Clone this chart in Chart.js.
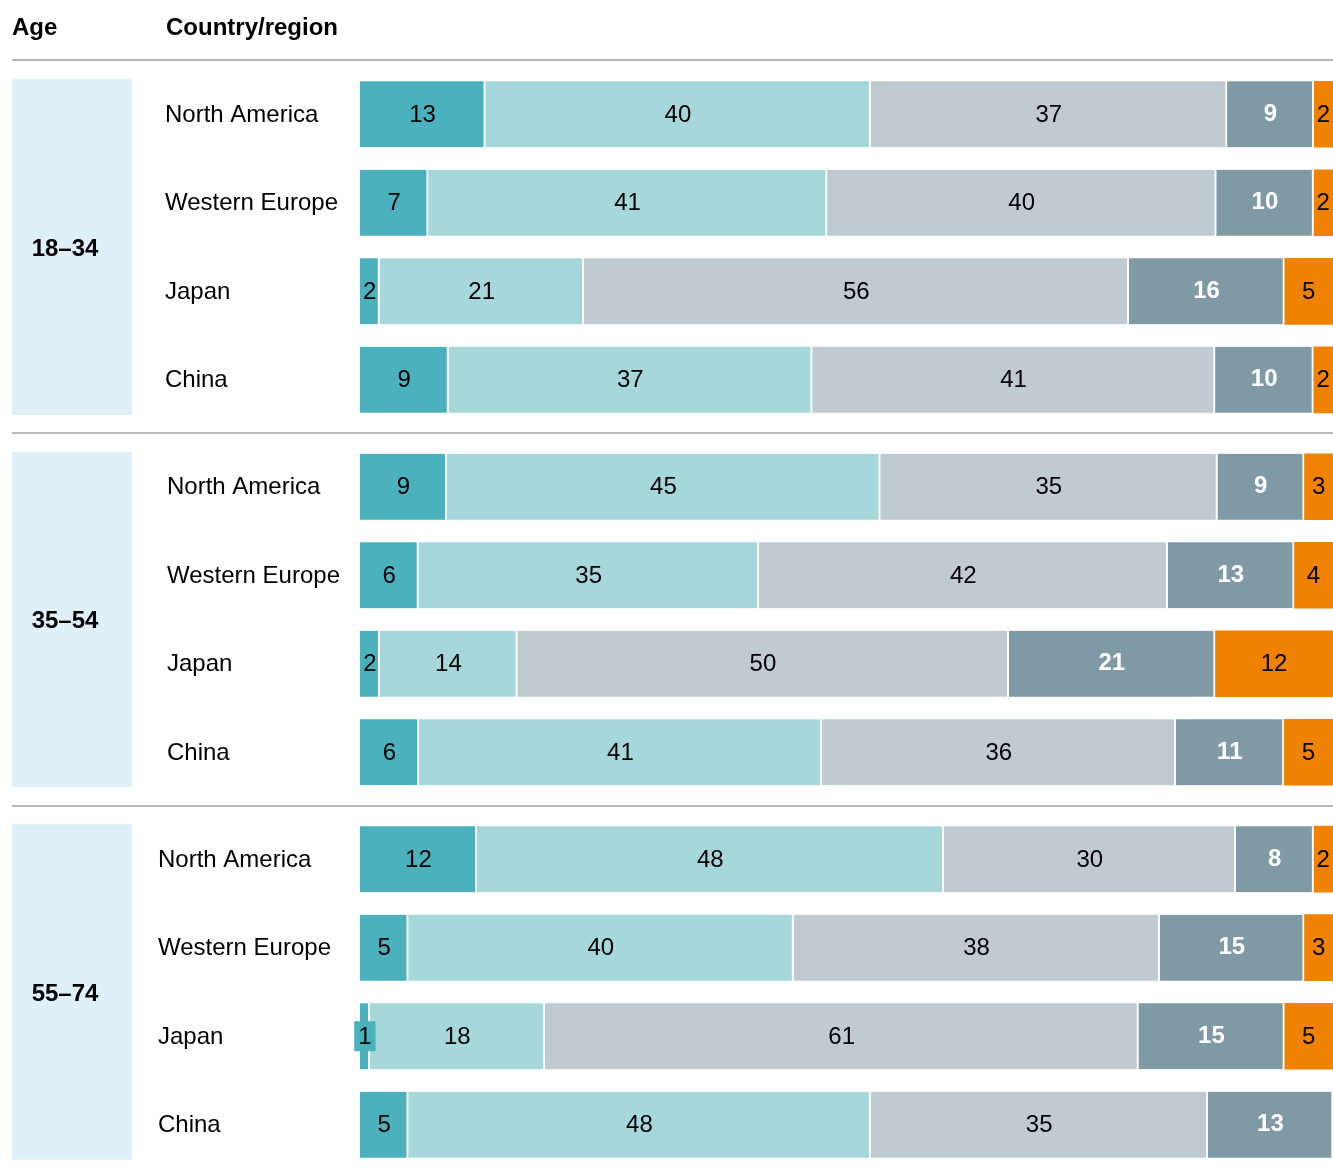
<!DOCTYPE html>
<html lang="en">
	<head>
		<meta charset="UTF-8" />
		<title>Age by country/region</title>
		<style>
			body { margin: 0; background: #fff; }
			#wrap { position: absolute; left: 0; top: 0; width: 1333px; height: 1169px; }
		</style>
	</head>
	<body>
		<div id="wrap"><canvas id="bars" width="1333" height="1169"></canvas></div>
		<script src="https://cdn.jsdelivr.net/npm/chart.js"></script>
		<script>
			const ageGroups = ["18–34", "35–54", "55–74"];
			const regions = ["North America", "Western Europe", "Japan", "China"];

			// one value per row: 3 age groups x 4 regions
			const series1 = [13, 7, 2, 9, 9, 6, 2, 6, 12, 5, 1, 5];
			const series2 = [40, 41, 21, 37, 45, 35, 14, 41, 48, 40, 18, 48];
			const series3 = [37, 40, 56, 41, 35, 42, 50, 36, 30, 38, 61, 35];
			const series4 = [9, 10, 16, 10, 9, 13, 21, 11, 8, 15, 15, 13];
			const series5 = [2, 2, 5, 2, 3, 4, 12, 5, 2, 3, 5, 0];

			const allSeries = [series1, series2, series3, series4, series5];
			const colors = ["#4bb2bd", "#a6d8db", "#bfcbd1", "#7f9aa5", "#ef8200"];

			const FONT = "'Liberation Sans', Arial, sans-serif";
			const GROUP_STEP = 4.207; // rows + small gap between age groups
			const regionX = [165, 167, 158];

			const rowPos = [];
			ageGroups.forEach((g, gi) => regions.forEach((r, ri) => rowPos.push(gi * GROUP_STEP + ri)));
			const totals = rowPos.map((p, j) => allSeries.reduce((s, arr) => s + arr[j], 0));

			const datasets = allSeries.map((arr, k) => ({
				label: "s" + (k + 1),
				data: arr.map((v, j) => ({ y: rowPos[j], x: (v / totals[j]) * 100 })),
				backgroundColor: colors[k],
				borderColor: "#ffffff",
				borderWidth: { left: 0, right: k === 4 ? 0 : 2, top: 0, bottom: 0 },
				borderSkipped: false,
				barThickness: 66
			}));

			const decor = {
				id: "decor",
				beforeDraw(chart) {
					const c = chart.ctx;
					const y = chart.scales.y;
					c.save();
					c.fillStyle = "#000";
					c.font = "bold 24px " + FONT;
					c.textBaseline = "middle";
					c.textAlign = "left";
					c.fillText("Age", 12, 28);
					c.fillText("Country/region", 166, 28);

					ageGroups.forEach((g, gi) => {
						const top = y.getPixelForValue(gi * GROUP_STEP) - 35;
						const bot = y.getPixelForValue(gi * GROUP_STEP + 3) + 35;
						c.fillStyle = "#dff0f8";
						c.fillRect(12, top, 120, bot - top);
						c.fillStyle = "#000";
						c.font = "bold 24px " + FONT;
						c.textAlign = "center";
						c.fillText(g, 65, (top + bot) / 2 + 2);
						c.font = "24px " + FONT;
						c.textAlign = "left";
						regions.forEach((r, ri) => {
							c.fillText(r, regionX[gi], y.getPixelForValue(gi * GROUP_STEP + ri) + 1);
						});
					});

					c.strokeStyle = "#b8b8b8";
					c.lineWidth = 2;
					[60, 433, 806].forEach((ly) => {
						c.beginPath();
						c.moveTo(12, ly);
						c.lineTo(1333, ly);
						c.stroke();
					});
					c.restore();
				},
				afterDatasetsDraw(chart) {
					const c = chart.ctx;
					c.save();
					c.textAlign = "center";
					c.textBaseline = "middle";
					allSeries.forEach((arr, k) => {
						const meta = chart.getDatasetMeta(k);
						meta.data.forEach((bar, j) => {
							const v = arr[j];
							if (!v) return;
							const p = bar.getProps(["x", "y", "base"], true);
							const cx = (p.x + p.base) / 2;
							c.font = (k === 3 ? "bold " : "") + "24px " + FONT;
							const tw = c.measureText(String(v)).width;
							if (Math.abs(p.x - p.base) < tw) {
								c.fillStyle = colors[k];
								c.fillRect(cx - tw / 2 - 4, p.y - 15, tw + 8, 30);
							}
							c.fillStyle = k === 3 ? "#fff" : "#000";
							c.fillText(String(v), cx, p.y + (k === 3 ? 0 : 1));
						});
					});
					c.restore();
				}
			};

			new Chart(document.getElementById("bars"), {
				type: "bar",
				data: { datasets: datasets },
				options: {
					responsive: false,
					animation: false,
					indexAxis: "y",
					layout: { padding: { left: 360, right: 0, top: 70, bottom: 0 } },
					scales: {
						x: { type: "linear", min: 0, max: 100, stacked: true, display: false },
						y: {
							type: "linear",
							reverse: true,
							offset: false,
							min: -0.5,
							max: rowPos[rowPos.length - 1] + 0.5,
							stacked: true,
							display: false
						}
					},
					plugins: {
						legend: { display: false },
						tooltip: { enabled: false }
					}
				},
				plugins: [decor]
			});
		</script>
	</body>
</html>
